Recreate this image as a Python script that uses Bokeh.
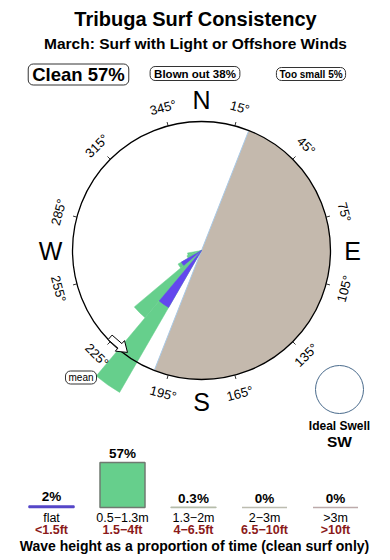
import numpy as np
from bokeh.plotting import figure
from bokeh.models import Label, Range1d
from bokeh.embed import file_html
from bokeh.resources import INLINE
from bokeh.core.properties import value

# ---------------- data ----------------
title = "Tribuga Surf Consistency"
subtitle = "March: Surf with Light or Offshore Winds"
clean_pct = 57
blown_pct = 38
small_pct = 5

# swell rose (sector centre bearings, lengths relative to the ring radius)
rose_dirs = [215, 225, 235, 245, 255]
rose_green = [1.27, 0.68, 0.21, 0.12, 0.11]
rose_blue = [0.51, 0.0, 0.18, 0.0, 0.0]
sector_width = 10
blown_from, blown_to = 21.5, 201.5
mean_dir = 221
ideal_dir = "SW"

deg_ticks = [15, 45, 75, 105, 135, 165, 195, 225, 255, 285, 315, 345]
cardinals = ["N", "E", "S", "W"]
cardinal_dirs = [0, 90, 180, 270]

wave_cats = ["flat", "0.5\u22121.3m", "1.3\u22122m", "2\u22123m", ">3m"]
wave_ft = ["<1.5ft", "1.5\u22124ft", "4\u22126.5ft", "6.5\u221210ft", ">10ft"]
wave_pct = [2, 57, 0.3, 0, 0]
wave_pct_labels = ["2%", "57%", "0.3%", "0%", "0%"]
wave_fill = ["#5546c8", "#66cf8c", "#b5bcaa", "#bcbcb0", "#bcaaaa"]
wave_line = ["#5546c8", "#6f7a70", "#b5bcaa", "#bcbcb0", "#bcaaaa"]

# ---------------- layout ----------------
W, H = 390, 560
FONT = "Liberation Sans"
CX, CY, R = 201, 310, 129

p = figure(width=W, height=H, x_range=Range1d(0, W), y_range=Range1d(0, H),
           x_axis_type=None, y_axis_type=None, toolbar_location=None,
           output_backend="svg", min_border=0)
p.outline_line_color = None
p.grid.visible = False


def lab(x, y, text, size, bold=False, color="black", align="center", box=False, pad=0, **kw):
    l = Label(x=x, y=y, text=text, text_font=FONT, text_font_size=f"{size}px",
              text_font_style="bold" if bold else "normal", text_color=color,
              text_align=align, text_baseline="middle", **kw)
    if box:
        l.border_line_color = "#333333"
        l.border_line_width = 1
        l.background_fill_color = "white"
        l.border_radius = 5
        l.padding = pad
    p.add_layout(l)


lab(195, 542, title, 20, bold=True)
lab(195, 517, subtitle, 15.5, bold=True)
lab(78, 486, f"Clean {clean_pct}%", 18.5, bold=True, box=True, pad=(4, 0))
lab(194.5, 487, f"Blown out {blown_pct}%", 11.5, bold=True, box=True, pad=(4, 1))
lab(310.5, 486.5, f"Too small {small_pct}%", 10, bold=True, box=True, pad=(3, 1))


def pol(r, b):
    b = np.radians(np.asarray(b, dtype=float))
    return CX + r * np.sin(b), CY + r * np.cos(b)


# ring background
p.circle(x=[CX], y=[CY], radius=R, fill_color="white", line_color=None)
# blown-out half
p.wedge(x=[CX], y=[CY], radius=R, start_angle=np.radians(90 - blown_to),
        end_angle=np.radians(90 - blown_from), fill_color="#c4b9ad", line_color=None)
x0, y0 = pol(R, blown_from)
x1, y1 = pol(R, blown_to)
p.segment(x0=[x0], y0=[y0], x1=[x1], y1=[y1], line_color="#a9c9e6", line_width=1)

# rose
dirs = np.array(rose_dirs, dtype=float)
sa = np.radians(90 - dirs - sector_width / 2)
ea = np.radians(90 - dirs + sector_width / 2)
g = np.array(rose_green) * R
b = np.array(rose_blue) * R
p.wedge(x=CX, y=CY, radius=g, start_angle=sa, end_angle=ea,
        fill_color="#66cf8c", line_color="#66cf8c", line_width=0.5)
p.wedge(x=CX, y=CY, radius=b, start_angle=sa, end_angle=ea,
        fill_color="#6347ee", line_color="#6347ee", line_width=0.5)

# ring outline
p.circle(x=[CX], y=[CY], radius=R, fill_color=None, line_color="black", line_width=1.3)

# ticks and degree labels
tx0, ty0 = pol(R, deg_ticks)
tx1, ty1 = pol(R + 4, deg_ticks)
p.segment(x0=tx0, y0=ty0, x1=tx1, y1=ty1, line_color="black", line_width=0.8)
lx, ly = pol(148, deg_ticks)
ang = [(-d) % 360 if (d < 90 or d > 270) else 180 - d for d in deg_ticks]
p.text(x=lx, y=ly, text=[f"{d}\u00b0" for d in deg_ticks], angle=np.radians(ang),
       text_font=value(FONT), text_font_size=value("13px"), text_align="center",
       text_baseline="middle", text_color="black")
cx_, cy_ = pol(151, cardinal_dirs)
p.text(x=cx_, y=cy_, text=cardinals, text_font=value(FONT), text_font_size=value("25px"),
       text_align="center", text_baseline="middle", text_color="black")

# mean arrow (tangential block arrow on the ring)
mx, my = pol(125.5, mean_dir)
th = np.radians(180 - mean_dir)
u = np.array([-12, 1, 1, 11, 1, 1, -12])
v = np.array([-3, -3, -7, 0, 7, 3, 3])
ax = mx + u * np.cos(th) - v * np.sin(th)
ay = my + u * np.sin(th) + v * np.cos(th)
p.patch(x=ax, y=ay, fill_color="white", line_color="black", line_width=1)
lab(80.5, 183, "mean", 10, box=True, pad=(3, 1))

# ideal swell
p.circle(x=[339], y=[171], radius=24, fill_color="white", line_color="#4a6b8c", line_width=1)
lab(339, 135, "Ideal Swell", 12, bold=True)
lab(339, 119, ideal_dir, 15.5, bold=True)

# wave-height bars
base = 53
scale = 45 / 57
centers = 51 + 71 * np.arange(len(wave_cats))
tops = base + np.array(wave_pct, dtype=float) * scale
p.quad(left=centers - 22.5, right=centers + 22.5, bottom=base, top=tops,
       fill_color=wave_fill, line_color=wave_line, line_width=1.5)
p.text(x=centers, y=tops + 1.5, text=wave_pct_labels, text_font=value(FONT),
       text_font_size=value("13.5px"), text_font_style="bold", text_align="center",
       text_baseline="bottom", text_color="black")
p.text(x=centers, y=[43] * 5, text=wave_cats, text_font=value(FONT),
       text_font_size=value("12.5px"), text_align="center", text_baseline="middle",
       text_color="black")
p.text(x=centers, y=[31] * 5, text=wave_ft, text_font=value(FONT),
       text_font_size=value("12.5px"), text_font_style="bold", text_align="center",
       text_baseline="middle", text_color="#8b1a1a")
lab(194, 15, "Wave height as a proportion of time (clean surf only)", 14, bold=True)

open("out.html", "w").write(file_html(p, INLINE))
